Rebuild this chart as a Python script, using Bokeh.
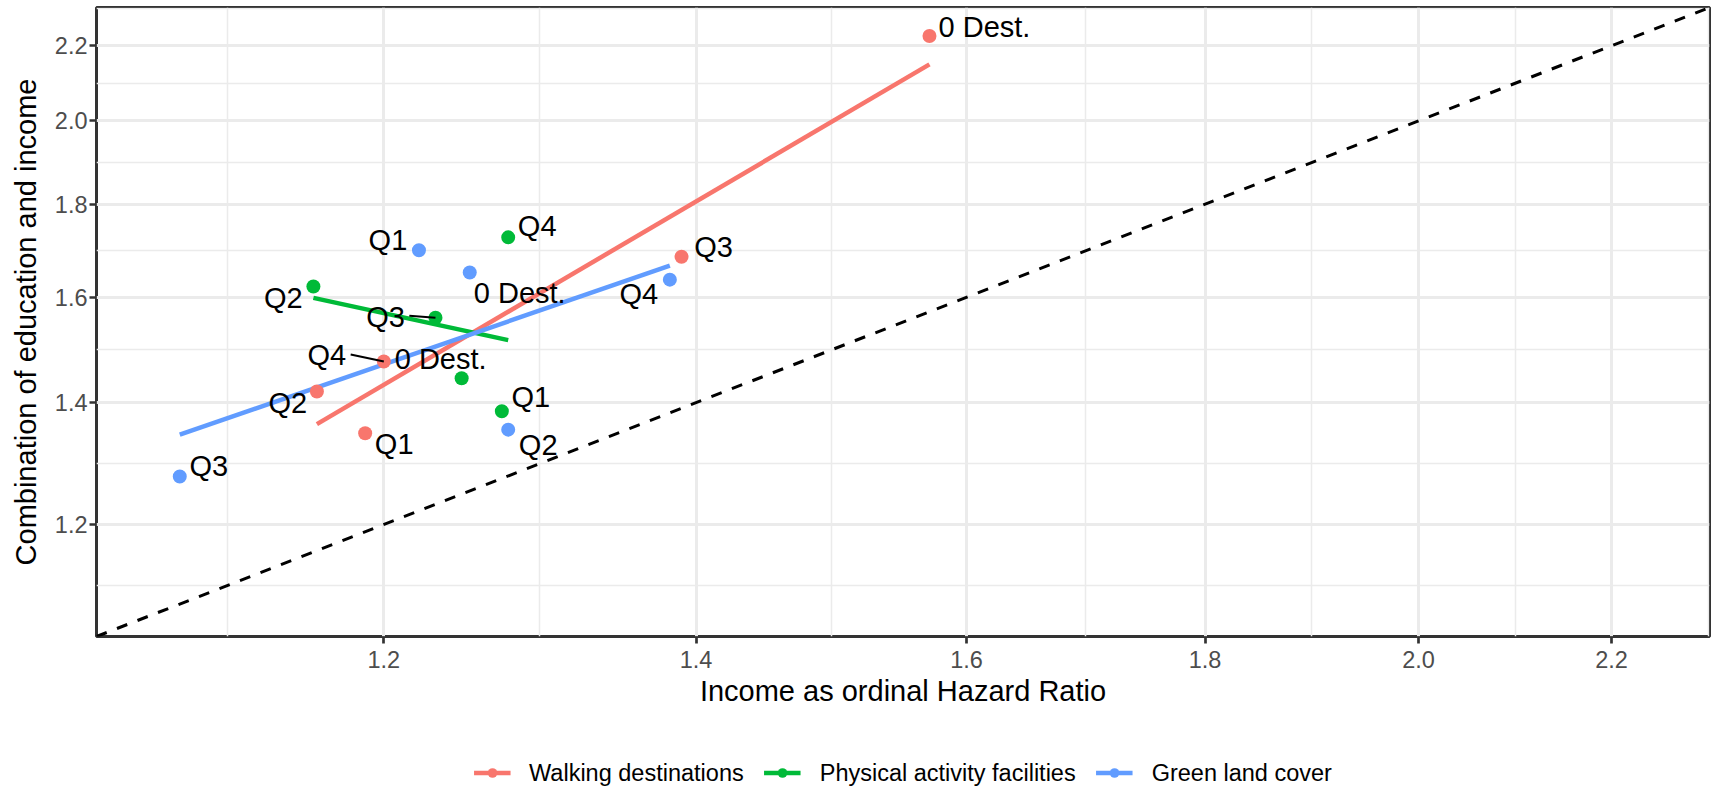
import numpy as np
from bokeh.plotting import figure
from bokeh.layouts import column
from bokeh.models import (Range1d, FixedTicker, PrintfTickFormatter, Slope,
                          Legend, LegendItem, ColumnDataSource)
from bokeh.core.properties import value
from bokeh.embed import file_html
from bokeh.resources import INLINE

# ---------------- data ----------------
groups = ["Walking destinations", "Physical activity facilities", "Green land cover"]
colors = ["#F8766D", "#00BA38", "#619CFF"]

walk_labels = ["0 Dest.", "Q1", "Q2", "Q3", "Q4"]
walk_income_hr = [1.571, 1.189, 1.161, 1.390, 1.200]
walk_combined_hr = [2.227, 1.347, 1.420, 1.684, 1.475]

pa_labels = ["0 Dest.", "Q1", "Q2", "Q3", "Q4"]
pa_income_hr = [1.247, 1.272, 1.159, 1.231, 1.276]
pa_combined_hr = [1.444, 1.385, 1.622, 1.559, 1.726]

green_labels = ["0 Dest.", "Q1", "Q2", "Q3", "Q4"]
green_income_hr = [1.252, 1.221, 1.276, 1.085, 1.382]
green_combined_hr = [1.651, 1.698, 1.353, 1.275, 1.636]

tick_values = [1.2, 1.4, 1.6, 1.8, 2.0, 2.2]
axis_limits = (1.0413, 2.309)

x_title = "Income as ordinal Hazard Ratio"
y_title = "Combination of education and income"

# ---------------- layout (label placement, pixels) ----------------
# (dx, dy) of label centre from its point, screen px; draw_segment flag
walk_offsets = [(55, -9), (29, 11), (-29, 12), (32, -10), (-57, -6)]
walk_segments = [False, False, False, False, True]
pa_offsets = [(-21, -19), (29, -14), (-30, 12), (-50, -1), (29, -11)]
pa_segments = [False, False, False, True, False]
green_offsets = [(50, 21), (-31, -10), (30, 15), (29, -11), (-31, 14)]
green_segments = [False, False, False, False, False]

series = [
    (walk_labels, walk_income_hr, walk_combined_hr, walk_offsets, walk_segments),
    (pa_labels, pa_income_hr, pa_combined_hr, pa_offsets, pa_segments),
    (green_labels, green_income_hr, green_combined_hr, green_offsets, green_segments),
]

FONT = "Liberation Sans"
W = 1716
H_MAIN, H_LEG = 757, 31
ML, MR, MT = 96, 7, 7
FRAME_BOTTOM = 636
MB = H_MAIN - FRAME_BOTTOM
FW, FH = W - ML - MR, FRAME_BOTTOM - MT
LABEL_PX = 29

p = figure(width=W, height=H_MAIN, x_axis_type="log", y_axis_type="log",
           x_range=Range1d(*axis_limits), y_range=Range1d(*axis_limits),
           output_backend="svg", toolbar_location=None,
           min_border_left=ML, min_border_right=MR,
           min_border_top=MT, min_border_bottom=MB,
           background_fill_color="white", border_fill_color="white")

# ticks & grids
ticks = np.array(tick_values)
lt = np.log(ticks)
mids = np.exp((lt[:-1] + lt[1:]) / 2)
lo_minor = np.exp(lt[0] - (lt[1] - lt[0]) / 2)
hi_minor = np.exp(lt[-1] + (lt[-1] - lt[-2]) / 2)
minor = [float(lo_minor)] + [float(m) for m in mids] + [float(hi_minor)]

for ax in (p.xaxis, p.yaxis):
    ax.ticker = FixedTicker(ticks=tick_values, minor_ticks=minor)
    ax.formatter = PrintfTickFormatter(format="%.1f")
    ax.axis_line_color = None
    ax.major_tick_in = 0
    ax.major_tick_out = 7
    ax.major_tick_line_color = "#333333"
    ax.major_tick_line_width = 2.7
    ax.minor_tick_line_color = None
    ax.major_label_text_font = FONT
    ax.major_label_text_font_size = "23.5px"
    ax.major_label_text_color = "#4D4D4D"
    ax.axis_label_text_font = FONT
    ax.axis_label_text_font_size = "29px"
    ax.axis_label_text_font_style = "normal"
    ax.axis_label_text_color = "black"

p.xaxis.axis_label = x_title
p.yaxis.axis_label = y_title
p.xaxis.major_label_standoff = 7
p.xaxis.axis_label_standoff = 4
p.yaxis.major_label_standoff = 2
p.yaxis.axis_label_standoff = 10

for g in (p.xgrid, p.ygrid):
    g.grid_line_color = "#EBEBEB"
    g.grid_line_width = 3
    g.minor_grid_line_color = "#EBEBEB"
    g.minor_grid_line_width = 1.5

p.outline_line_color = "#333333"
p.outline_line_width = 3

# identity line
p.add_layout(Slope(gradient=1, y_intercept=0, line_color="black",
                   line_dash="11 11", line_width=3))

lnx_px = FW / np.log(axis_limits[1] / axis_limits[0])
lny_px = FH / np.log(axis_limits[1] / axis_limits[0])

for (labels, xs, ys, offs, segs), color in zip(series, colors):
    xs_a, ys_a = np.array(xs), np.array(ys)
    slope, icpt = np.polyfit(np.log(xs_a), np.log(ys_a), 1)
    fx = np.array([xs_a.min(), xs_a.max()])
    fy = np.exp(icpt + slope * np.log(fx))
    p.line(fx, fy, line_color=color, line_width=4.5)

for (labels, xs, ys, offs, segs), color in zip(series, colors):
    src = ColumnDataSource(dict(x=xs, y=ys))
    p.scatter("x", "y", source=src, size=14, fill_color=color,
              line_color=None, marker="circle")

for (labels, xs, ys, offs, segs) in series:
    # repel segments
    for lab, x, y, (dx, dy), s in zip(labels, xs, ys, offs, segs):
        if s:
            half_w = 0.667 * LABEL_PX * 0.5 * len(lab) + 0.5
            sx0 = dx + (half_w + 4 if dx < 0 else -(half_w + 4))
            x0 = x * np.exp(sx0 / lnx_px)
            y0 = y * np.exp(-(dy - 1) / lny_px)
            p.segment(x0=[x0], y0=[y0], x1=[x], y1=[y], line_color="black",
                      line_width=2.2)
    tsrc = ColumnDataSource(dict(x=xs, y=ys, t=labels,
                                 dx=[o[0] for o in offs],
                                 dy=[o[1] for o in offs]))
    p.text("x", "y", text="t", source=tsrc, x_offset="dx", y_offset="dy",
           text_align="center", text_baseline="middle",
           text_font=value(FONT), text_font_size=f"{LABEL_PX}px",
           text_color="black")

# ---------------- legend strip (same inner borders as the main plot) ----------------
leg = figure(width=W, height=H_LEG, output_backend="svg", toolbar_location=None,
             x_axis_location=None, y_axis_location=None,
             x_range=Range1d(0, 1), y_range=Range1d(0, 1),
             min_border_left=ML, min_border_right=MR,
             min_border_top=0, min_border_bottom=0,
             background_fill_color="white", border_fill_color="white")
leg.grid.visible = False
leg.outline_line_color = None

legend_items = []
for (labels, xs, ys, offs, segs), name, color in zip(series, groups, colors):
    key_src = ColumnDataSource(dict(x=xs, y=ys))
    lr = leg.line("x", "y", source=key_src, line_color=color, line_width=4.5,
                  visible=False)
    pr = leg.scatter("x", "y", source=key_src, size=13, fill_color=color,
                     line_color=None, marker="circle", visible=False)
    legend_items.append(LegendItem(label=name, renderers=[lr, pr]))

legend = Legend(items=legend_items, orientation="horizontal",
                location="center", padding=0, margin=0, spacing=20,
                glyph_width=37, glyph_height=24, label_height=24,
                label_standoff=19,
                label_text_font=FONT, label_text_font_size="23.5px",
                label_text_color="black", border_line_color=None,
                background_fill_alpha=0, inactive_fill_alpha=0)
leg.add_layout(legend)

layout = column(p, leg, spacing=0)
open("out.html", "w").write(file_html(layout, INLINE))
